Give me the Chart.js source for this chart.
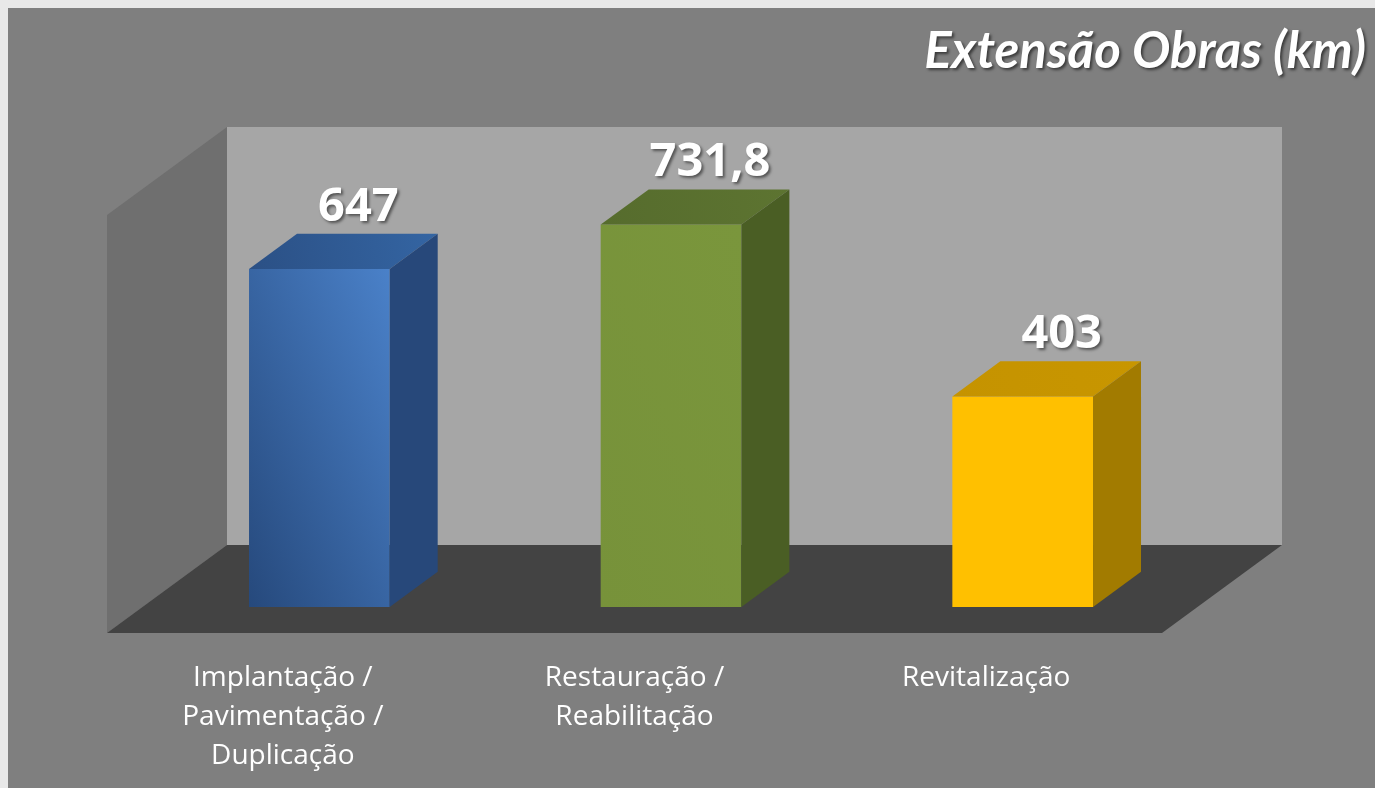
<!DOCTYPE html>
<html><head><meta charset="utf-8">
<script src="https://cdn.jsdelivr.net/npm/chart.js@4.4.1/dist/chart.umd.min.js"></script>
<style>html,body{margin:0;padding:0;background:#e7e7e7;overflow:hidden}canvas{display:block}</style>
</head><body>
<canvas id="c" width="1375" height="788"></canvas>
<script>
// ---- data ----
const categories = [["Implantação /", "Pavimentação /", "Duplicação"], ["Restauração /", "Reabilitação"], "Revitalização"];
const values = [647, 731.8, 403];
const valueLabels = ["647", "731,8", "403"];
const titleText = "Extensão Obras (km)";
const yMin = 0;
const yMax = 800;

// ---- styles ----
const frontColors = [["#26497c", "#4a81c9"], ["#77923a", "#7a963c"], ["#ffc000", "#ffc000"]];
const topColors = [["#2b5085", "#3465a3"], ["#566c2d", "#5d7431"], ["#c59300", "#c89600"]];
const sideColors = ["#27487a", "#4a5e24", "#a27b00"];
const DX = 120, DY = -88;          // wall depth
const BAR_F = 0.296;               // bar front position in depth
const BAR_D = 0.40;                // bar depth fraction

const threeD = {
  id: 'threeD',
  beforeDraw(chart) {
    const ctx = chart.ctx;
    ctx.save();
    ctx.fillStyle = '#e8e8e8';
    ctx.fillRect(0, 0, chart.width, chart.height);
    ctx.fillStyle = '#7f7f7f';
    ctx.fillRect(8, 8, chart.width - 8, chart.height - 8);
    // title
    ctx.font = 'italic bold 51px Lato';
    ctx.textAlign = 'right';
    ctx.textBaseline = 'alphabetic';
    ctx.shadowColor = 'rgba(0,0,0,0.55)';
    ctx.shadowOffsetX = 2; ctx.shadowOffsetY = 2; ctx.shadowBlur = 3;
    ctx.fillStyle = '#ffffff';
    ctx.fillText(titleText, 1366, 68);
    ctx.restore();
  },
  beforeDatasetsDraw(chart) {
    const ctx = chart.ctx;
    const a = chart.chartArea;
    ctx.save();
    // back wall
    ctx.fillStyle = '#a6a6a6';
    ctx.fillRect(a.left + DX, a.top + DY, a.right - a.left, a.bottom - a.top);
    // left wall
    ctx.fillStyle = '#6f6f6f';
    ctx.beginPath();
    ctx.moveTo(a.left, a.top);
    ctx.lineTo(a.left + DX, a.top + DY);
    ctx.lineTo(a.left + DX, a.bottom + DY);
    ctx.lineTo(a.left, a.bottom);
    ctx.closePath(); ctx.fill();
    // floor
    ctx.fillStyle = '#434343';
    ctx.beginPath();
    ctx.moveTo(a.left, a.bottom);
    ctx.lineTo(a.left + DX, a.bottom + DY);
    ctx.lineTo(a.right + DX, a.bottom + DY);
    ctx.lineTo(a.right, a.bottom);
    ctx.closePath(); ctx.fill();
    ctx.restore();
    ctx.save();
    ctx.translate(DX * BAR_F + 1, DY * BAR_F);
  },
  afterDatasetsDraw(chart) {
    const ctx = chart.ctx;
    const meta = chart.getDatasetMeta(0);
    const bx = DX * BAR_D, by = DY * BAR_D;
    meta.data.forEach((bar, i) => {
      const p = bar.getProps(['x', 'y', 'base', 'width'], true);
      const l = p.x - p.width / 2, r = p.x + p.width / 2;
      // top face
      const tg = ctx.createLinearGradient(l, p.y, r + bx, p.y + by);
      tg.addColorStop(0, topColors[i][0]); tg.addColorStop(1, topColors[i][1]);
      ctx.fillStyle = tg;
      ctx.beginPath();
      ctx.moveTo(l, p.y); ctx.lineTo(l + bx, p.y + by); ctx.lineTo(r + bx, p.y + by); ctx.lineTo(r, p.y);
      ctx.closePath(); ctx.fill();
      // side face
      ctx.fillStyle = sideColors[i];
      ctx.beginPath();
      ctx.moveTo(r, p.y); ctx.lineTo(r + bx, p.y + by); ctx.lineTo(r + bx, p.base + by); ctx.lineTo(r, p.base);
      ctx.closePath(); ctx.fill();
      // value label
      ctx.save();
      ctx.font = 'bold 47px "Open Sans"';
      ctx.textAlign = 'center';
      ctx.textBaseline = 'alphabetic';
      ctx.shadowColor = 'rgba(0,0,0,0.5)';
      ctx.shadowOffsetX = 2; ctx.shadowOffsetY = 2; ctx.shadowBlur = 3;
      ctx.fillStyle = '#ffffff';
      ctx.fillText(valueLabels[i], p.x + 39, p.y + by - 13);
      ctx.restore();
    });
    ctx.restore();
  }
};

new Chart(document.getElementById('c'), {
  type: 'bar',
  data: {
    labels: categories,
    datasets: [{
      data: values,
      borderWidth: 0,
      categoryPercentage: 1,
      barPercentage: 0.4,
      clip: false,
      backgroundColor: (c) => {
        const chart = c.chart, i = c.dataIndex;
        const cols = frontColors[i] || frontColors[0];
        if (!chart.chartArea || !chart.scales.x) return cols[0];
        const x = chart.scales.x.getPixelForValue(i);
        const w = (chart.chartArea.right - chart.chartArea.left) / categories.length * 0.4;
        const yTop = chart.scales.y.getPixelForValue(values[i]);
        const yBase = chart.scales.y.getPixelForValue(0);
        const h = yBase - yTop;
        const d = w * w + h * h;
        const g = chart.ctx.createLinearGradient(x - w / 2, yBase, x - w / 2 + 2 * w * h * h / d, yBase - 2 * w * w * h / d);
        g.addColorStop(0, cols[0]); g.addColorStop(1, cols[1]);
        return g;
      }
    }]
  },
  options: {
    responsive: false,
    animation: false,
    devicePixelRatio: 1,
    layout: { padding: { left: 107, right: 213, top: 215, bottom: 0 } },
    plugins: { legend: { display: false }, tooltip: { enabled: false }, title: { display: false } },
    scales: {
      x: {
        grid: { display: false, drawTicks: false },
        border: { display: false },
        ticks: { color: '#ffffff', font: { family: 'Open Sans', size: 28, lineHeight: 1.39 }, padding: 26, maxRotation: 0, autoSkip: false },
        afterFit: (s) => { s.height = 155; }
      },
      y: {
        display: false,
        min: yMin, max: yMax
      }
    }
  },
  plugins: [threeD]
});
</script>
</body></html>
